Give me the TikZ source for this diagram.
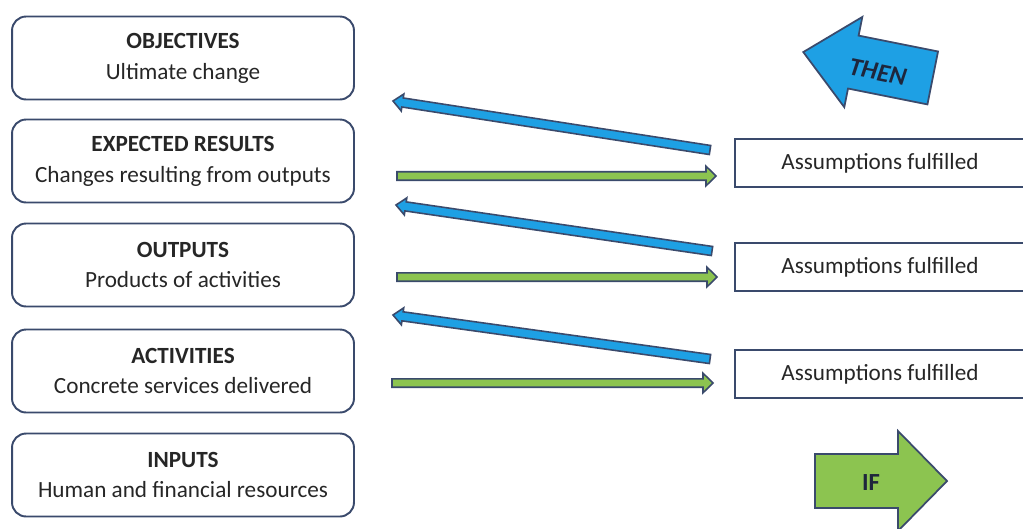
\documentclass[tikz,border=0pt]{standalone}
\usepackage{fontspec}
\setmainfont{Carlito}
\usetikzlibrary{calc}
\definecolor{edge}{RGB}{58,74,108}
\definecolor{thenblue}{RGB}{30,160,228}
\definecolor{ifgreen}{RGB}{140,196,80}
\definecolor{ink}{RGB}{30,38,60}
\begin{document}
\begin{tikzpicture}[x=0.02cm,y=-0.02cm,
  level/.style={draw=edge,line width=1.1pt,rounded corners=8pt,minimum width=6.84cm,minimum height=1.66cm,align=center,text=black!85,font=\fontsize{13.2}{17.6}\selectfont},
  assum/.style={draw=edge,line width=1.1pt,minimum width=5.8cm,minimum height=0.96cm,text=black!85,font=\fontsize{13.2}{16}\selectfont},
  blockarr/.style n args={3}{draw=edge,line width=0.9pt,to path={
    ($(\tikztostart)!#1!90:(\tikztotarget)$) --
    ($(\tikztotarget)!#3!(\tikztostart)!#1!-90:(\tikztostart)$) --
    ($(\tikztotarget)!#3!(\tikztostart)!#2!-90:(\tikztostart)$) --
    (\tikztotarget) --
    ($(\tikztotarget)!#3!(\tikztostart)!#2!90:(\tikztostart)$) --
    ($(\tikztotarget)!#3!(\tikztostart)!#1!90:(\tikztostart)$) --
    ($(\tikztostart)!#1!-90:(\tikztotarget)$) -- cycle}},
  thenarr/.style={blockarr={2.6pt}{4.9pt}{5.5pt},fill=thenblue},
  ifarr/.style={blockarr={2.4pt}{5.6pt}{5.7pt},fill=ifgreen}]
\useasboundingbox (0,0) rectangle (1023,528);
\clip (0,0) rectangle (1023,528);
\node[level](obj) at (183,58) {\textbf{OBJECTIVES}\\Ultimate change};
\node[level](res) at (183,161) {\textbf{EXPECTED RESULTS}\\Changes resulting from outputs};
\node[level](out) at (183,265) {\textbf{OUTPUTS}\\Products of activities};
\node[level](act) at (183,371) {\textbf{ACTIVITIES}\\Concrete services delivered};
\node[level](inp) at (183,475) {\textbf{INPUTS}\\Human and financial resources};
\node[assum](as1) at (880,163) {Assumptions fulfilled};
\node[assum](as2) at (880,267) {Assumptions fulfilled};
\node[assum](as3) at (880,374) {Assumptions fulfilled};
\coordinate (b1s) at (710,150); \coordinate (b1e) at (393,101);
\coordinate (b2s) at (712,251); \coordinate (b2e) at (396,205);
\coordinate (b3s) at (710,359); \coordinate (b3e) at (393,315);
\coordinate (g1s) at (397,176); \coordinate (g1e) at (716,176);
\coordinate (g2s) at (397,277); \coordinate (g2e) at (717,277);
\coordinate (g3s) at (392,383); \coordinate (g3e) at (713,383);
\draw[thenarr](b1s) to (b1e);
\draw[ifarr](g1s) to (g1e);
\draw[thenarr](b2s) to (b2e);
\draw[ifarr](g2s) to (g2e);
\draw[thenarr](b3s) to (b3e);
\draw[ifarr](g3s) to (g3e);
\begin{scope}[shift={(868,65)},rotate=-11.3]
\draw[draw=edge,line width=1pt,fill=thenblue](66,-27)--(-15,-27)--(-15,-46)--(-66,0)--(-15,46)--(-15,27)--(66,27)--cycle;
\node[rotate=-11.3,text=ink,font=\fontsize{14.5}{17}\selectfont\bfseries\itshape](then) at (11,5) {THEN};
\end{scope}
\draw[draw=edge,line width=1pt,fill=ifgreen](815,454)--(898,454)--(898,431)--(947,481)--(898,531)--(898,508)--(815,508)--cycle;
\node[text=ink,font=\fontsize{14}{16}\selectfont\bfseries](if) at (871,483) {IF};
\end{tikzpicture}
\end{document}
